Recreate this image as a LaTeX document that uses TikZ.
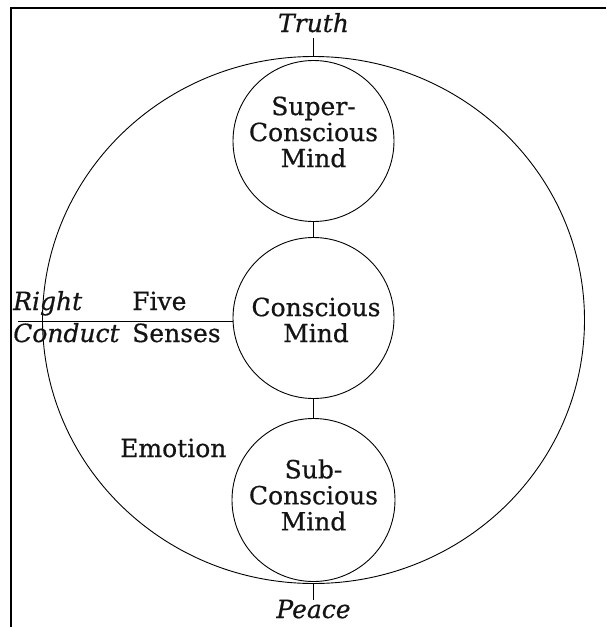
\documentclass[tikz,border=0pt]{standalone}
\usepackage{fontspec}
\setmainfont{DejaVu Serif}[FakeBold=0.6]
\usetikzlibrary{shapes.geometric}
\tikzset{
  ring/.style={draw=black, line width=0.9pt, circle, minimum size=#1, inner sep=0pt},
  outerring/.style={draw=black, line width=0.9pt, ellipse, minimum width=542pt, minimum height=527pt, inner sep=0pt},
  link/.style={draw=black, line width=0.9pt},
  frame/.style={draw=black, line width=1.3pt},
  mindtext/.style={align=center, font=\fontsize{25}{26}\selectfont, text=black!92, inner sep=0pt},
  lbl/.style={font=\fontsize{25}{26}\selectfont, text=black!92, inner sep=0pt},
  ilbl/.style={font=\fontsize{25}{26}\selectfont\itshape, text=black!92, inner sep=0pt}
}
\begin{document}
\begin{tikzpicture}[x=1pt,y=-1pt]
\useasboundingbox (0,0) rectangle (606,627);
% frame (top and left edges)
\draw[frame] (11,627) -- (11,8) -- (606,8);
% outer ellipse
\node[outerring] (outer) at (313.5,320) {};
% circles
\node[ring=161pt] (sup) at (313.5,141) {};
\node[ring=161pt] (con) at (313.5,318) {};
\node[ring=163pt] (sub) at (313.5,500) {};
% texts in circles
\node[mindtext] (suptext) at (313.5,132) {Super-\\Conscious\\Mind};
\node[mindtext] (context) at (316,320) {Conscious\\Mind};
\node[mindtext] (subtext) at (313.5,495) {Sub-\\Conscious\\Mind};
% outer labels
\node[ilbl, anchor=base] (truth) at (313.5,32) {Truth};
\node[ilbl, anchor=base] (peace) at (313.5,618) {Peace};
\node[ilbl, anchor=base west] (right) at (13,310) {Right};
\node[ilbl, anchor=base west] (conduct) at (13,342) {Conduct};
\node[lbl, anchor=base west] (five) at (132,310) {Five};
\node[lbl, anchor=base west] (senses) at (132,342) {Senses};
\node[lbl, anchor=base west] (emotion) at (120,457) {Emotion};
% connectors
\coordinate (truthend) at (313.5,38);
\coordinate (peaceend) at (313.5,600);
\coordinate (leftend) at (18,321);
\draw[link] (truthend) -- (outer.north);
\draw[link] (sup.south) -- (con.north);
\draw[link] (con.south) -- (sub.north);
\draw[link] (outer.south) -- (peaceend);
\draw[link] (leftend) -- (leftend -| con.west);
\end{tikzpicture}
\end{document}
